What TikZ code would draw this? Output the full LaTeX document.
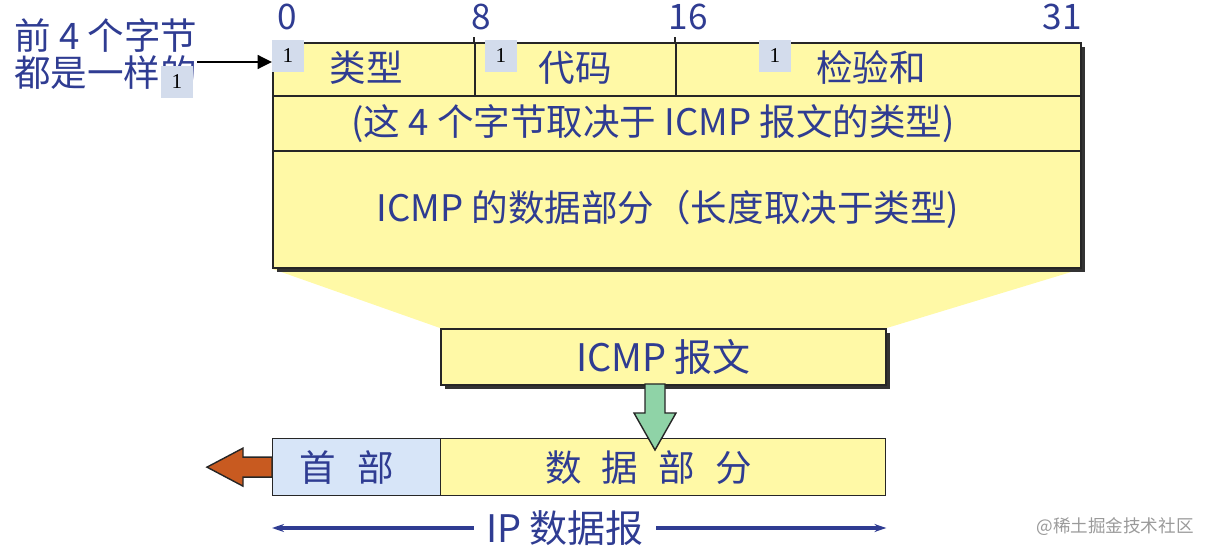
\documentclass[tikz,border=0pt]{standalone}
\usepackage{fontspec}
\setmainfont{Noto Sans CJK SC}
\newfontfamily\badgefont{Liberation Serif}
\usetikzlibrary{arrows.meta,positioning,shadows,backgrounds}
\definecolor{INK}{HTML}{2F3C92}
\definecolor{PKT}{HTML}{FFF9A6}
\definecolor{HDR}{HTML}{D7E5F8}
\definecolor{BADGE}{HTML}{D3DCEC}
\definecolor{GRN}{HTML}{8FD3A7}
\definecolor{ORG}{HTML}{C85A20}
\definecolor{MARK}{HTML}{9A9A9A}

\begin{document}
\begin{tikzpicture}[
  x=0.025cm, y=-0.025cm,
  txt/.style={text=INK, font=\fontsize{26}{28}\selectfont},
  shade box/.style={draw=black!85, line width=1.2pt, fill=PKT, anchor=north west, inner sep=0pt,
    drop shadow={shadow xshift=0.1cm, shadow yshift=-0.1cm, opacity=1, fill=black!80}},
  cell/.style={draw=black!85, line width=1.2pt, anchor=north west, inner sep=0pt, txt},
  flat/.style={draw=black!85, line width=0.9pt, anchor=north west, inner sep=0pt, txt},
  badge/.style={fill=BADGE, minimum size=0.8cm, inner sep=0pt, font=\badgefont\fontsize{15}{15}\selectfont},
  bitlbl/.style={text=INK, inner sep=0pt, font=\fontsize{25}{25}\selectfont},
  tick/.style={draw=black!85, line width=1.2pt},
  arr/.style={-{Triangle[length=0.36cm, width=0.34cm]}, draw=black, line width=2pt},
  iparr/.style={-{Stealth[length=0.3cm, width=0.2cm]}, draw=INK, line width=2.2pt},
]
\useasboundingbox (0,0) rectangle (1212,556);

% ICMP header and data
\node[shade box, minimum width=20.2cm, minimum height=5.625cm] (frame) at (272,42) {};
\node[cell, minimum width=5.05cm, minimum height=1.325cm] (typecell) at (272,42) {\raisebox{0.15cm}{\hspace{-0.4em}类型}};
\node[cell, minimum width=5.025cm, minimum height=1.325cm] (codecell) at (474,42) {\raisebox{0.15cm}{代码}};
\node[cell, minimum width=10.125cm, minimum height=1.325cm] (chkcell) at (675,42) {\raisebox{0.15cm}{检验和\hspace{0.4em}}};
\node[cell, minimum width=20.2cm, minimum height=1.375cm] (restcell) at (272,95)
  {\mbox{(这 4 个字节取决于 ICMP 报文的类型)\hspace{1.3em}}};
\node[cell, minimum width=20.2cm, minimum height=2.925cm] (datacell) at (272,150)
  {\mbox{ICMP 的数据部分（长度取决于类型)\hspace{0.5em}}};
\draw[tick] (codecell.north west) -- ++(0,-5);
\draw[tick] (chkcell.north west) -- ++(0,-5);

% bit positions
\node[bitlbl] (bit0) at (287,17) {0};
\node[bitlbl] (bit8) at (481,17) {8};
\node[bitlbl] (bit16) at (688,17) {16};
\node[bitlbl] (bit31) at (1062,17) {31};

% ICMP message box
\node[shade box, txt, font=\fontsize{27}{28}\selectfont, minimum width=11.125cm, minimum height=1.4cm] (msg) at (440,328) {ICMP 报文};

% funnel behind the boxes
\begin{scope}[on background layer]
  \fill[PKT] (frame.south west) -- (frame.south east) -- (msg.north east) -- (msg.north west) -- cycle;
\end{scope}

% IP datagram
\node[flat, fill=HDR, minimum width=4.2cm, minimum height=1.425cm] (hdr) at (272,438)
  {\mbox{首\hspace{0.6em}部\hspace{0.55em}}};
\node[flat, fill=PKT, minimum width=11.125cm, minimum height=1.425cm] (ipdata) at (440,438)
  {\mbox{数\hspace{0.55em}据\hspace{0.55em}部\hspace{0.55em}分\hspace{0.8em}}};

% green arrow down into the data part
\draw[draw=black!85, line width=1pt, fill=GRN, shift={(655,384)}]
  (-10,0) -- (-10,29) -- (-21,29) -- (0,66) -- (21,29) -- (10,29) -- (10,0) -- cycle;

% orange arrow out of the header
\draw[draw=black!85, line width=1pt, fill=ORG, shift={(hdr.west)}]
  (0,-10) -- (-29,-10) -- (-29,-19) -- (-65,0) -- (-29,19) -- (-29,10) -- (0,10) -- cycle;

% IP datagram span
\node[txt, font=\fontsize{27}{27}\selectfont, inner xsep=0.3cm] (iplbl) at (565,528) {IP 数据报};
\draw[iparr] (iplbl.west) -- (iplbl.west -| hdr.west);
\draw[iparr] (iplbl.east) -- (iplbl.east -| ipdata.east);

% note on the left
\node[txt, align=left, anchor=west, inner sep=0pt, font=\fontsize{26}{26.5}\selectfont] (note) at (14,54)
  {前 4 个字节\\都是一样的};
\draw[arr] ([yshift=-0.2cm]note.east) -- ([yshift=-0.2cm]note.east -| typecell.west);

% badges
\node[badge] (badgeA) at (288,56) {1};
\node[badge] (badgeB) at (501,56) {1};
\node[badge] (badgeC) at (775,56) {1};
\node[badge] (badgeD) at (177,82) {1};

% watermark
\node[text=MARK, inner sep=0pt, font=\fontsize{12.5}{12.5}\selectfont] (mark) at (1115,527) {@稀土掘金技术社区};

\end{tikzpicture}
\end{document}
